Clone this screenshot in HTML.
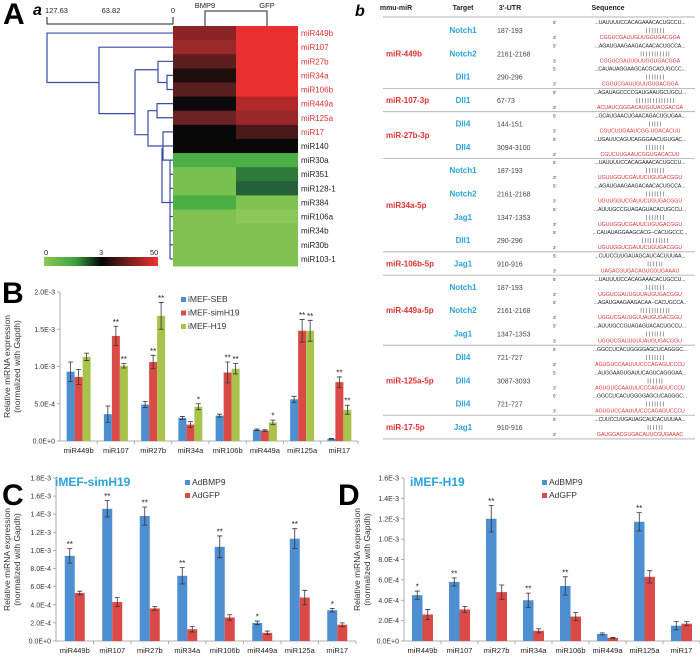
<!DOCTYPE html>
<html><head><meta charset="utf-8"><style>
html,body{margin:0;padding:0;background:#fff}
svg{display:block;font-family:"Liberation Sans",Arial,sans-serif}
</style></head><body>
<svg id="fig" width="700" height="661" viewBox="0 0 700 661" xmlns="http://www.w3.org/2000/svg">
<defs><linearGradient id="cbar" x1="0" x2="1" y1="0" y2="0">
<stop offset="0" stop-color="#8cc850"/><stop offset="0.28" stop-color="#3aa040"/><stop offset="0.5" stop-color="#050505"/><stop offset="0.75" stop-color="#7a2020"/><stop offset="1" stop-color="#f03030"/></linearGradient></defs>
<g id="panelA">
<text x="3" y="24" font-size="30" font-weight="bold">A</text>
<text x="33" y="15" font-size="16" font-weight="bold" font-style="italic">a</text>
<g font-size="7.5" fill="#222">
<text x="45" y="13">127.63</text>
<text x="111" y="13" text-anchor="middle">63.82</text>
<text x="173" y="13" text-anchor="middle">0</text>
<text x="205" y="8" text-anchor="middle">BMP9</text>
<text x="267" y="8" text-anchor="middle">GFP</text>
</g>
<path d="M47,17V24H173V17 M205,26V11H267V26" fill="none" stroke="#222" stroke-width="1"/>
<g id="heat"></g>
<g id="dendro" fill="none" stroke="#3a4aa8" stroke-width="1.2"></g>
<rect x="44" y="257" width="114" height="9" fill="url(#cbar)"/>
<g font-size="7.5" fill="#222"><text x="44" y="255">0</text><text x="99" y="255">3</text><text x="150" y="255">50</text></g>
</g>
<g id="panelb">
<text x="355" y="16" font-size="16" font-weight="bold" font-style="italic">b</text>
<g font-size="7" font-weight="bold" fill="#222">
<text x="396" y="10" text-anchor="middle">mmu-miR</text>
<text x="463" y="10" text-anchor="middle">Target</text>
<text x="510" y="10" text-anchor="middle">3'-UTR</text>
<text x="608" y="10" text-anchor="middle">Sequence</text></g>
<line x1="383" x2="695" y1="17" y2="17" stroke="#999" stroke-width="0.8"/>
<g id="tbl"></g>
</g>
<g id="chartB"></g><g id="chartC"></g><g id="chartD"></g>
</svg>
<script>
// ---- Panel A heatmap data ----
const heatRows=["miR449b","miR107","miR27b","miR34a","miR106b","miR449a","miR125a","miR17","miR140","miR30a","miR351","miR128-1","miR384","miR106a","miR34b","miR30b","miR103-1"];
const heatBMP9=["#8b2525","#9a2a2a","#5c1e1e","#1e0e0e","#5a2020","#0c0a0a","#6a2222","#080808","#080808","#4caf45","#78c050","#78c050","#4caf45","#80c250","#80c250","#80c250","#80c250"];
const heatGFP=["#e83030","#e83030","#e83030","#e83030","#e83030","#b02828","#9a2828","#4a1a1a","#080808","#4caf45","#2e7a3a","#24603a","#80c250","#8cc858","#80c250","#80c250","#80c250"];
// ---- Panel b table data ----
const groups=[["miR-449b",3],["miR-107-3p",1],["miR-27b-3p",2],["miR34a-5p",4],["miR-106b-5p",1],["miR-449a-5p",3],["miR-125a-5p",3],["miR-17-5p",1]];
const targets=["Notch1","Notch2","Dll1","Dll1","Dll4","Dll4","Notch1","Notch2","Jag1","Dll1","Jag1","Notch1","Notch2","Jag1","Dll4","Dll4","Dll4","Jag1"];
const utrs=["187-193","2161-2168","290-296","67-73","144-151","3094-3100","187-193","2161-2168","1347-1353","290-296","910-916","187-193","2161-2168","1347-1353","721-727","3087-3093","721-727","910-916"];
const seq5=["...UAUUUUCCACAGAAACACUGCCU...","...AGAUGAAGAAGACAACACUGCCA...","...CAUAUAGGAAGCACGCACUGCCC...","...AGAUAGCCCCGAUGAAUGCUGCU...","...GCAUGAACUGAACAGACUGUGAA...","...UGAUUCAGUCAGGGAACUGUGAC...","...UAUUUUCCACAGAAACACUGCCU...","...AGAUGAAGAAGACAACACUGCCA...","...AUUUGCCGUAGAGUACACUGCCU...","...CAUAUAGGAAGCACG--CACUGCCC...","...CUUCCUUGAUAGCAUCACUUUAA...","...UAUUUUCCACAGAAACACUGCCU...","...AGAUGAAGAAGACAA--CACUGCCA..","...AUUUGCCGUAGAGUACACUGCCU...","...GGCCUCACUGGGGAGCUCAGGGC...","...AUGGAAGUGAUUCAGUCAGGGAA...","...GGCCUCACUGGGGAGCUCAGGGC...","...CUUCCUUGAUAGCAUCACUUUAA..."];
const seq3=["CGGUCGAUUGUUGGUGACGGA","CGGUCGAUUGUUGGUGACGGA","CGGUCGAUUGUUGUGACGGA","ACUAUCGGGACAUGUUACGACGA","CGUCUUGAAUCGG-UGACACUU","CGUCUUGAAUCGGUGACACUU","UGUUGGUCGAUUCUGUGACGGU","UGUUGGUCGAUUCUGUGACGGU","UGUUGGUCGAUUCUGUGACGGU","UGUUGGUCGAUUCUGUGACGGU","UAGACGUGACAGUCGUGAAAU","UGGUCGAUUGUUAUGUGACGGU","UGGUCGAUUGUUAUGUGACGGU","UGGUCGAUUGUUAUGUGACGGU","AGUGUCCAAUUUCCCAGAGUCCCU","AGUGUCCAAUUUCCCAGAGUCCCU","AGUGUCCAAUUUCCCAGAGUCCCU","GAUGGACGUGACAUUCGUGAAAC"];
const pairs=["| | | | | | |","| | | | | | | | | | |","| | | | | | |","| | | | | | |      | | | | | | |","| | | | |","| | | | | | |","| | | | | | |","| | | | | | |","| | | | | | |","| | |    | | | | | | |","| | | | | |","| | | | | | |","| | | |   | | | | | | |","| | | | | | |","| | | | | | |","| | | | | |","| | | | | | |","| | | | | |"];
// ---- Panel B data ----
const catsB=["miR449b","miR107","miR27b","miR34a","miR106b","miR449a","miR125a","miR17"];
const ticksB=["0.0E+0","5.0E-4","1.0E-3","1.5E-3","2.0E-3"];
const seriesNamesB=["iMEF-SEB","iMEF-simH19","iMEF-H19"];
const sebB=[0.93,0.36,0.49,0.31,0.34,0.15,0.56,0.03];
const simB=[0.86,1.41,1.06,0.22,0.92,0.14,1.48,0.79];
const h19B=[1.13,1.01,1.68,0.46,0.97,0.25,1.48,0.42];
const sebErrB=[0.13,0.11,0.04,0.02,0.02,0.01,0.04,0.005];
const simErrB=[0.10,0.13,0.09,0.04,0.14,0.01,0.15,0.07];
const h19ErrB=[0.05,0.03,0.18,0.04,0.07,0.03,0.14,0.06];
const sebStarB=["","","","","","","",""];
const simStarB=["","**","**","","**","","**","**"];
const h19StarB=["","**","**","*","**","*","**","**"];
// ---- Panel C data ----
const catsC=["miR449b","miR107","miR27b","miR34a","miR106b","miR449a","miR125a","miR17"];
const ticksC=["0.0E+0","2.0E-4","4.0E-4","6.0E-4","8.0E-4","1.0E-3","1.2E-3","1.4E-3","1.6E-3","1.8E-3"];
const bmpC=[0.94,1.46,1.38,0.72,1.04,0.20,1.13,0.34];
const gfpC=[0.53,0.43,0.36,0.13,0.26,0.09,0.48,0.18];
const bmpErrC=[0.08,0.09,0.10,0.09,0.12,0.02,0.11,0.02];
const gfpErrC=[0.02,0.05,0.02,0.03,0.03,0.02,0.08,0.02];
const bmpStarC=["**","**","**","**","**","*","**","*"];
const gfpStarC=["","","","","","","",""];
// ---- Panel D data ----
const catsD=["miR449b","miR107","miR27b","miR34a","miR106b","miR449a","miR125a","miR17"];
const ticksD=["0.0E+0","2.0E-4","4.0E-4","6.0E-4","8.0E-4","1.0E-3","1.2E-3","1.4E-3","1.6E-3"];
const bmpD=[0.45,0.58,1.20,0.40,0.54,0.07,1.17,0.15];
const gfpD=[0.26,0.31,0.48,0.10,0.24,0.03,0.63,0.17];
const bmpErrD=[0.04,0.04,0.13,0.07,0.09,0.01,0.09,0.04];
const gfpErrD=[0.05,0.03,0.07,0.02,0.04,0.005,0.06,0.02];
const bmpStarD=["*","**","**","**","**","","**",""];
const gfpStarD=["","","","","","","",""];

const NS="http://www.w3.org/2000/svg";
function mk(parent,tag,attrs,text){const e=document.createElementNS(NS,tag);for(const k in attrs)e.setAttribute(k,attrs[k]);if(text!==undefined)e.textContent=text;parent.appendChild(e);return e;}

// Heatmap
(function(){
const g=document.getElementById('heat');
const y0=26;
heatRows.forEach((r,i)=>{
 const y=y0+i*(240/heatRows.length);const h=240/heatRows.length;
 const a=mk(g,'rect',{x:173,y:y,width:63,height:h+0.5,fill:heatBMP9[i]});
 
 
 const b=mk(g,'rect',{x:236,y:y,width:62,height:h+0.5,fill:heatGFP[i]});
 
 
 const t=mk(g,'text',{x:301,y:y+h/2+3,'font-size':8,fill:i<8?'#e03030':'#222'},r);
 
 
});
const H=240/heatRows.length, c=i=>26+H*i+H/2;
const d=document.getElementById('dendro');
const p=[
 `M173,${c(0)}H47V${(c(1)+c(6))/2}H99`,
 `M173,${c(1)}H99V${(c(2)+c(8))/2+10}H135`,
 `M173,${c(2)}H158V${(c(3)+c(4))/2}H167 M173,${c(3)}H167V${c(4)}H173`,
 `M135,${c(2.6)}H158 M135,${c(2.6)}V${c(7.2)}H148`,
 `M173,${c(5)}H157V${c(6)}H173 M157,${c(5.5)}H148V${c(8)}H163`,
 `M173,${c(7)}H163V${c(9)}H173 M173,${c(8)}H163`,
 `M163,${c(8.2)}H162V${c(12)}H170 M170,${c(9)}V${c(16)}`,
 ...[10,11,12,13,14,15,16].map(i=>`M170,${c(i)}H173`)
];
p.forEach(s=>mk(d,'path',{d:s}));
})();

// Table
(function(){
const g=document.getElementById('tbl');
const cy=i=>30+23.35*i;
let idx=0;
groups.forEach(([name,n],gi)=>{
 const mid=(cy(idx)+cy(idx+n-1))/2;
 const t=mk(g,'text',{x:386,y:mid+3,'font-size':8,'font-weight':'bold',fill:'#e03030'},name);
 
 
 idx+=n;
 if(gi<groups.length-1) mk(g,'line',{x1:383,x2:695,y1:cy(idx)-11.7,y2:cy(idx)-11.7,stroke:'#aaa','stroke-width':0.8});
});
mk(g,'line',{x1:383,x2:695,y1:cy(17)+12,y2:cy(17)+12,stroke:'#aaa','stroke-width':0.8});
targets.forEach((tg,i)=>{
 const y=cy(i);
 const t=mk(g,'text',{x:463,y:y+3,'font-size':8,'font-weight':'bold',fill:'#2aa3da','text-anchor':'middle'},tg);
 
 
 const u=mk(g,'text',{x:497,y:y+3,'font-size':7,fill:'#444'},utrs[i]);
 
 
 mk(g,'text',{x:553,y:y-6,'font-size':4.5,fill:'#333'},"5'");
 mk(g,'text',{x:553,y:y+9,'font-size':4.5,fill:'#333'},"3'");
 const s5=mk(g,'text',{x:640,y:y-6,'font-size':5.2,fill:'#222','text-anchor':'middle','letter-spacing':'-0.1'},seq5[i]);
 
 
 mk(g,'text',{x:655,y:y+2,'font-size':5.2,fill:'#222','text-anchor':'middle','xml:space':'preserve'},pairs[i]);
 const s3=mk(g,'text',{x:640,y:y+9,'font-size':5.2,fill:'#e03030','text-anchor':'middle'},seq3[i]);
 
 
});
})();

// Bar chart helper
function barChart(gid,cfg){
 const g=document.getElementById(gid);
 const yS=v=>cfg.y0-(v/cfg.vmax)*(cfg.y0-cfg.ytop);
 const n=cfg.cats.length,gw=(cfg.x1-cfg.x0)/n;
 const L=mk(g,'text',{x:cfg.letterX,y:cfg.letterY,'font-size':30,'font-weight':'bold'},cfg.letter);
 
 
 cfg.ticks.forEach((t,i)=>{
  const v=cfg.vmax*i/(cfg.ticks.length-1),y=yS(v);
  mk(g,'line',{x1:cfg.x0-3,x2:cfg.x0,y1:y,y2:y,stroke:'#999','stroke-width':0.8});
  const tt=mk(g,'text',{x:cfg.x0-5,y:y+2.5,'font-size':7,fill:'#333','text-anchor':'end'},t);
  
  
 });
 mk(g,'line',{x1:cfg.x0,x2:cfg.x0,y1:cfg.ytop,y2:cfg.y0,stroke:'#999','stroke-width':0.8});
 mk(g,'line',{x1:cfg.x0,x2:cfg.x1,y1:cfg.y0,y2:cfg.y0,stroke:'#999','stroke-width':0.8});
 const yt=mk(g,'text',{transform:`translate(${cfg.titleX},${(cfg.y0+cfg.ytop)/2}) rotate(-90)`,'font-size':8.5,fill:'#333','text-anchor':'middle'});
 
 
 mk(yt,'tspan',{x:0,dy:0},'Relative miRNA expression');
 mk(yt,'tspan',{x:0,dy:10},'(normalized with Gapdh)');
 const ns=cfg.series.length,bw=cfg.bw;
 cfg.cats.forEach((c,i)=>{
  const cx=cfg.x0+gw*(i+0.5);
  const tl=mk(g,'text',{x:cx,y:cfg.y0+12,'font-size':7.5,fill:'#222','text-anchor':'middle'},c);
  
  
  mk(g,'line',{x1:cfg.x0+gw*(i+1),x2:cfg.x0+gw*(i+1),y1:cfg.y0,y2:cfg.y0+3,stroke:'#999','stroke-width':0.8});
  cfg.series.forEach((s,k)=>{
   const x=cx-ns*bw/2+k*bw,v=s.vals[i],y=yS(v);
   const r=mk(g,'rect',{x:x,y:y,width:bw,height:cfg.y0-y,fill:s.color});
   
   
   const e=s.err[i],mx=x+bw/2,yh=yS(v+e),yl=yS(v-e);
   mk(g,'path',{d:`M${mx},${yh}V${yl}M${mx-2.5},${yh}H${mx+2.5}M${mx-2.5},${yl}H${mx+2.5}`,stroke:'#333','stroke-width':0.8,fill:'none'});
   if(s.stars[i]){const st=mk(g,'text',{x:mx,y:yh-1.5,'font-size':8,fill:'#222','text-anchor':'middle'},s.stars[i]);
    
    }
  });
 });
 cfg.series.forEach((s,k)=>{
  const y=cfg.legY+k*cfg.legDy;
  const sq=mk(g,'rect',{x:cfg.legX,y:y-5,width:5,height:5,fill:s.color});
  
  
  const lt=mk(g,'text',{x:cfg.legX+7,y:y,'font-size':8.5,fill:'#333'},s.name);
  
  
 });
 if(cfg.title){const t=mk(g,'text',{x:cfg.titleTX,y:cfg.titleTY,'font-size':12,'font-weight':'bold',fill:'#2aa3da'},cfg.title);
  
  }
}
const BLUE='#4d8fd1',RED='#dc4a47',GREEN='#a8c34c';
barChart('chartB',{cats:catsB,ticks:ticksB,vmax:2.0,y0:441,ytop:292,x0:60,x1:358,bw:8,letter:'B',letterX:2,letterY:303,titleX:10,
 legX:181,legY:302,legDy:13.5,
 series:[{name:seriesNamesB[0],vals:sebB,err:sebErrB,stars:sebStarB,color:BLUE},{name:seriesNamesB[1],vals:simB,err:simErrB,stars:simStarB,color:RED},{name:seriesNamesB[2],vals:h19B,err:h19ErrB,stars:h19StarB,color:GREEN}]});
barChart('chartC',{cats:catsC,ticks:ticksC,vmax:1.8,y0:641,ytop:478,x0:56,x1:356,bw:10,letter:'C',letterX:2,letterY:505,titleX:10,
 legX:185,legY:485,legDy:13,title:'iMEF-simH19',titleTX:55,titleTY:486,
 series:[{name:'AdBMP9',vals:bmpC,err:bmpErrC,stars:bmpStarC,color:BLUE},{name:'AdGFP',vals:gfpC,err:gfpErrC,stars:gfpStarC,color:RED}]});
barChart('chartD',{cats:catsD,ticks:ticksD,vmax:1.6,y0:641,ytop:478,x0:404,x1:700,bw:10.5,letter:'D',letterX:338,letterY:505,titleX:360,
 legX:542,legY:485,legDy:13,title:'iMEF-H19',titleTX:410,titleTY:486,
 series:[{name:'AdBMP9',vals:bmpD,err:bmpErrD,stars:bmpStarD,color:BLUE},{name:'AdGFP',vals:gfpD,err:gfpErrD,stars:gfpStarD,color:RED}]});
</script>
</body></html>
